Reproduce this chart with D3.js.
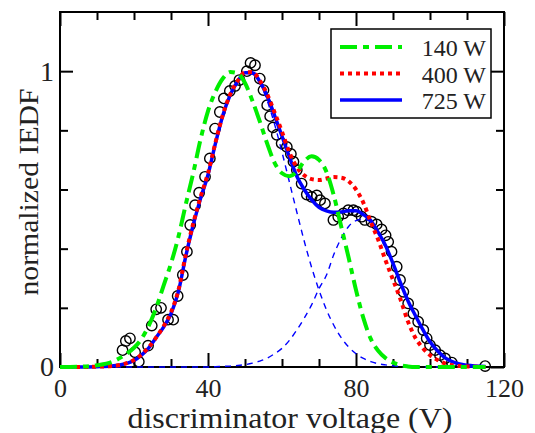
<!DOCTYPE html>
<html><head><meta charset="utf-8">
<script src="https://cdn.jsdelivr.net/npm/d3@7"></script>
<style>
body{margin:0;background:#fff}
svg{display:block}
text{font-family:"Liberation Serif","Times New Roman",serif;fill:#222}
</style>
</head><body>
<svg id="c" width="535" height="433"></svg>
<script>
// ---------- data ----------
const curveV = [0,5,10,14,18,20,22,24,26,28,30,32,34,36,38,40,42,44,46,48,50,52,54,56,58,60,62,64,66,68,70,72,74,76,78,80,82,84,86,88,90,92,94,96,98,100,102,104,106,108,110,115];
const iedf140 = [0,0.001,0.006,0.017,0.045,0.065,0.095,0.14,0.2,0.275,0.35,0.44,0.55,0.655,0.77,0.865,0.93,0.975,0.997,0.993,0.96,0.9,0.83,0.755,0.69,0.655,0.645,0.66,0.695,0.712,0.7,0.66,0.58,0.475,0.37,0.26,0.165,0.095,0.055,0.03,0.015,0.006,0.002,0,0,0,0,0,0,0,0,0];
const iedf400 = [0,0,0.001,0.003,0.013,0.024,0.042,0.067,0.1,0.138,0.185,0.26,0.38,0.485,0.575,0.655,0.758,0.852,0.922,0.967,0.996,0.997,0.968,0.922,0.86,0.795,0.725,0.675,0.648,0.635,0.632,0.637,0.642,0.64,0.628,0.6,0.555,0.49,0.43,0.36,0.295,0.23,0.155,0.1,0.065,0.04,0.024,0.012,0.006,0.003,0.002,0];
const iedf725 = [0,0,0.001,0.003,0.012,0.022,0.04,0.065,0.1,0.135,0.18,0.255,0.375,0.48,0.57,0.65,0.755,0.85,0.92,0.965,0.995,0.995,0.965,0.915,0.85,0.78,0.71,0.645,0.6,0.565,0.54,0.528,0.523,0.524,0.528,0.528,0.515,0.495,0.455,0.41,0.35,0.285,0.225,0.175,0.128,0.085,0.055,0.032,0.018,0.01,0.006,0.002];
const peak1 = [0,0,0.001,0.003,0.012,0.022,0.04,0.065,0.1,0.135,0.18,0.255,0.375,0.48,0.57,0.65,0.755,0.85,0.92,0.965,0.995,0.99,0.96,0.9,0.82,0.726,0.625,0.524,0.426,0.337,0.26,0.194,0.141,0.099,0.068,0.045,0.029,0.018,0.011,0.007,0.004,0.002,0.001,0,0,0,0,0,0,0,0,0];
const peak2 = [0,0,0,0,0,0,0,0,0,0,0,0,0,0,0,0,0.001,0.002,0.003,0.005,0.008,0.013,0.02,0.03,0.045,0.063,0.09,0.125,0.165,0.21,0.265,0.31,0.38,0.435,0.475,0.495,0.5,0.49,0.455,0.405,0.35,0.285,0.225,0.175,0.128,0.085,0.055,0.032,0.018,0.01,0.006,0.002];

const dataV = [16.9,17.8,18.9,20.3,21.3,23.8,24.8,26.0,27.3,29.2,30.6,31.8,33.2,34.3,35.2,36.5,37.6,39.2,40.5,41.9,43.2,44.3,45.9,47.3,48.5,50.5,51.5,52.7,54.0,55.0,56.0,56.8,57.6,58.6,59.9,61.3,62.4,63.1,64.0,65.3,66.7,68.0,69.4,70.3,71.6,73.9,75.2,76.6,77.9,79.3,80.2,81.5,82.4,84.2,85.6,86.9,88.0,88.7,89.6,91.0,91.9,92.8,94.1,95.5,96.8,98.2,99.1,100.0,101.4,102.7,104.1,105.9,114.9];
const dataIEDF = [0.057,0.088,0.097,0.05,0.018,0.072,0.14,0.195,0.2,0.16,0.16,0.24,0.311,0.39,0.48,0.547,0.589,0.643,0.705,0.806,0.862,0.908,0.933,0.95,0.97,1.0,1.028,1.02,0.975,0.936,0.885,0.848,0.81,0.785,0.756,0.744,0.72,0.694,0.666,0.62,0.583,0.575,0.58,0.564,0.553,0.497,0.508,0.519,0.53,0.53,0.525,0.508,0.497,0.491,0.482,0.465,0.445,0.423,0.39,0.339,0.294,0.254,0.215,0.181,0.153,0.125,0.097,0.074,0.057,0.04,0.029,0.015,0.003];

const xMajorTicks = [0,40,80,120];
const xMinorTicks = [10,20,30,50,60,70,90,100,110];
const yMajorTicks = [0,1];
const yMinorTicks = [0.2,0.4,0.6,0.8];
const legendLabels = ["140 W","400 W","725 W"];
const xTitle = "discriminator voltage (V)";
const yTitle = "normalized IEDF";

// ---------- drawing ----------
const FONT = "'Liberation Serif','Times New Roman',serif";
const svg = d3.select("#c");
const x = d3.scaleLinear().domain([0,120]).range([60,504]);
const y = d3.scaleLinear().domain([0,1.2]).range([367,12]);
const mkLine = vals => d3.line().x((d,i)=>x(curveV[i])).y(d=>y(d)).curve(d3.curveMonotoneX)(vals);

function styleAxis(g, fs){
  g.select(".domain").remove();
  g.selectAll(".tick line").attr("stroke","#000").attr("stroke-width",2);
  g.attr("font-family",FONT).attr("font-size",fs);
  g.selectAll(".tick text").attr("fill","#222");
}
// bottom
svg.append("g").attr("transform","translate(0,367)")
  .call(d3.axisBottom(x).tickValues(xMajorTicks).tickSize(-14).tickPadding(11.5).tickFormat(d3.format("d")))
  .call(g=>styleAxis(g,26));
svg.append("g").attr("transform","translate(0,367)")
  .call(d3.axisBottom(x).tickValues(xMinorTicks).tickSize(-8).tickFormat(""))
  .call(g=>styleAxis(g,26));
// top
svg.append("g").attr("transform","translate(0,12)")
  .call(d3.axisTop(x).tickValues(xMajorTicks).tickSize(-14).tickFormat(""))
  .call(g=>styleAxis(g,26));
svg.append("g").attr("transform","translate(0,12)")
  .call(d3.axisTop(x).tickValues(xMinorTicks).tickSize(-8).tickFormat(""))
  .call(g=>styleAxis(g,26));
// left
svg.append("g").attr("transform","translate(60,0)")
  .call(d3.axisLeft(y).tickValues(yMajorTicks).tickSize(-13).tickPadding(6).tickFormat(d3.format("d")))
  .call(g=>styleAxis(g,28));
svg.append("g").attr("transform","translate(60,0)")
  .call(d3.axisLeft(y).tickValues(yMinorTicks).tickSize(-8).tickFormat(""))
  .call(g=>styleAxis(g,28));
// right
svg.append("g").attr("transform","translate(504,0)")
  .call(d3.axisRight(y).tickValues(yMajorTicks).tickSize(-13).tickFormat(""))
  .call(g=>styleAxis(g,28));
svg.append("g").attr("transform","translate(504,0)")
  .call(d3.axisRight(y).tickValues(yMinorTicks).tickSize(-8).tickFormat(""))
  .call(g=>styleAxis(g,28));

// frame
svg.append("rect").attr("x",x(0)).attr("y",y(1.2)).attr("width",x(120)-x(0)).attr("height",y(0)-y(1.2))
  .attr("fill","none").attr("stroke","#000").attr("stroke-width",2);

// data circles
svg.append("g").selectAll("circle").data(dataV).join("circle")
  .attr("cx",d=>x(d)).attr("cy",(d,i)=>y(dataIEDF[i])).attr("r",5.2)
  .attr("fill","none").attr("stroke","#000").attr("stroke-width",1.4);

// gaussian components
[peak1,peak2].forEach(p=>{
  svg.append("path").attr("d",mkLine(p)).attr("fill","none")
    .attr("stroke","#0000ff").attr("stroke-width",1.4).attr("stroke-dasharray","6,5");
});
// series
svg.append("path").attr("d",mkLine(iedf725)).attr("fill","none").attr("stroke","#0000ff").attr("stroke-width",3.5);
svg.append("path").attr("d",mkLine(iedf400)).attr("fill","none").attr("stroke","#ff0000").attr("stroke-width",4).attr("stroke-dasharray","4,4");
svg.append("path").attr("d",mkLine(iedf140)).attr("fill","none").attr("stroke","#00ee00").attr("stroke-width",4).attr("stroke-dasharray","17,6,6,6");

// axis titles
svg.append("text").attr("x",(x(0)+x(120))/2+8).attr("y",428).attr("text-anchor","middle")
  .attr("font-family",FONT).attr("font-size",29).attr("textLength",325).attr("lengthAdjust","spacingAndGlyphs").text(xTitle);
svg.append("text").attr("transform","translate(38,192) rotate(-90)").attr("text-anchor","middle")
  .attr("font-family",FONT).attr("font-size",28).attr("textLength",207).attr("lengthAdjust","spacingAndGlyphs").text(yTitle);

// legend
const lg = svg.append("g");
lg.append("rect").attr("x",331).attr("y",29).attr("width",160).attr("height",89)
  .attr("fill","#fff").attr("stroke","#000").attr("stroke-width",1.5);
const legStyles = [
  {c:"#00ee00",w:4,da:"17,6,6,6"},
  {c:"#ff0000",w:4,da:"4,4"},
  {c:"#0000ff",w:3.5,da:null}
];
legendLabels.forEach((t,i)=>{
  const cy = 47 + i*26.5;
  lg.append("line").attr("x1",340).attr("x2",402).attr("y1",cy).attr("y2",cy)
    .attr("stroke",legStyles[i].c).attr("stroke-width",legStyles[i].w)
    .attr("stroke-dasharray",legStyles[i].da);
  lg.append("text").attr("x",486).attr("y",cy+9).attr("text-anchor","end")
    .attr("font-family",FONT).attr("font-size",24).text(t);
});
</script>
</body></html>
